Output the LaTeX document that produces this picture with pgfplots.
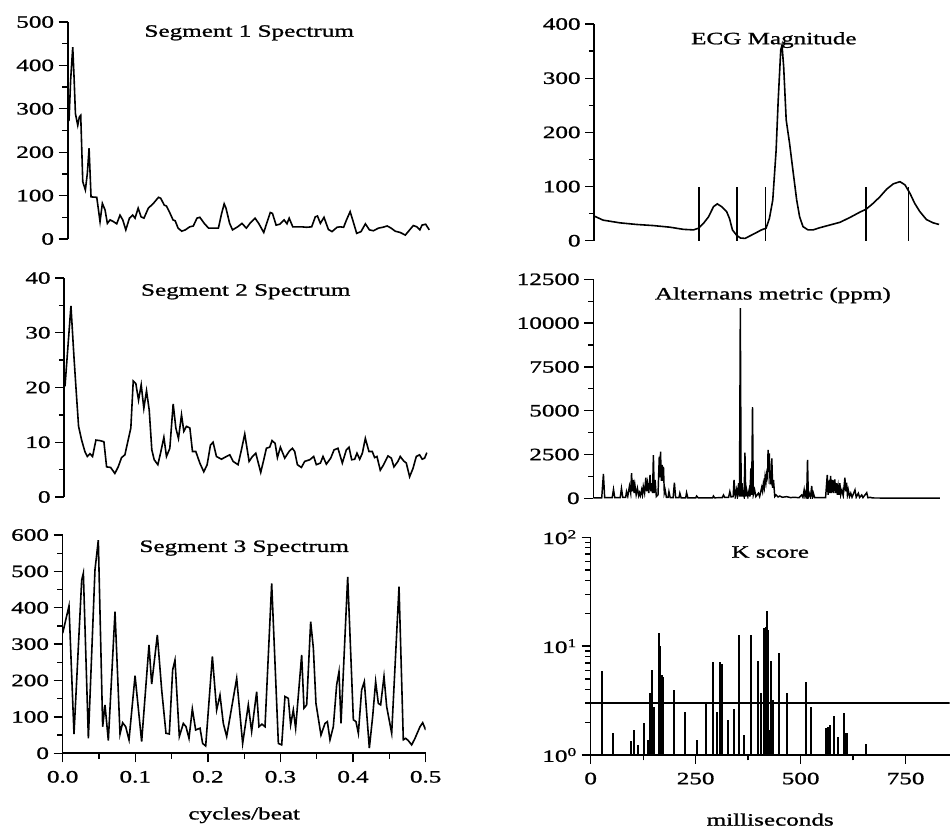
\documentclass[border=0pt]{standalone}
\usepackage{fontspec}
\setmainfont{Liberation Serif}[FakeStretch=1.45, FakeBold=1.2]
\usepackage{pgfplots}
\pgfplotsset{compat=1.18}
\pgfplotsset{
  base/.style={
    scale only axis,
    anchor=south west,
    enlargelimits=false,
    font=\fontsize{13}{15}\selectfont,
    /pgf/number format/assume math mode=true,
    /pgf/number format/1000 sep={},
    scaled y ticks=false,
    axis y line*=left,
    tick align=outside,
    major tick length=6.75pt,
    minor tick length=4pt,
    every tick/.append style={black, line width=1pt},
    every minor tick/.append style={black, line width=1pt},
    axis line style={line width=1.2pt},
    minor y tick num=1,
  },
  top/.style={axis x line=none, xtick=\empty},
  xlab/.style={xlabel style={at={(axis description cs:0.5,0)}, anchor=center, yshift=-#1}},
  curve/.style={black, line width=1.2pt, mark=none},
}
\begin{document}
\begin{tikzpicture}
\useasboundingbox (0pt,0pt) rectangle (712.5pt,623.25pt);

% ---------- Segment 1
\begin{axis}[base, top, at={(50.8pt,444pt)}, width=272.25pt, height=162.75pt,
  xmin=0, xmax=0.5, ymin=0, ymax=500, ytick={0,100,...,500}]
\addplot[curve] coordinates {(0,270) (0.0018,274) (0.004,366) (0.0069,442) (0.0087,373) (0.0106,289) (0.0138,262) (0.016,281) (0.0179,285) (0.0207,132) (0.0243,113) (0.027,151) (0.0294,209) (0.0321,97) (0.040,96) (0.0445,40) (0.0477,82) (0.0514,67) (0.0546,36) (0.0583,44) (0.063,40) (0.0675,35) (0.072,55) (0.0758,44) (0.080,21) (0.085,48) (0.0895,55) (0.0927,48) (0.097,71) (0.101,51) (0.105,48) (0.111,71) (0.118,82) (0.125,96) (0.128,94) (0.133,78) (0.136,76) (0.141,59) (0.145,44) (0.148,42) (0.152,25) (0.157,18) (0.162,21) (0.168,28) (0.173,30) (0.178,48) (0.182,50) (0.188,36) (0.194,25) (0.2006,25) (0.2075,25) (0.212,59) (0.2155,81) (0.218,71) (0.223,36) (0.227,21) (0.234,28) (0.24,36) (0.246,25) (0.251,36) (0.258,48) (0.263,36) (0.27,15) (0.274,36) (0.279,61) (0.282,59) (0.287,32) (0.292,34) (0.298,44) (0.302,35) (0.305,48) (0.31,28) (0.315,28) (0.322,28) (0.329,27) (0.336,28) (0.341,51) (0.344,53) (0.348,36) (0.353,50) (0.359,22) (0.364,17) (0.371,27) (0.375,28) (0.38,27) (0.384,44) (0.389,63) (0.3925,44) (0.398,13) (0.404,17) (0.41,35) (0.4155,21) (0.421,19) (0.428,25) (0.434,27) (0.44,30) (0.4455,25) (0.451,18) (0.458,15) (0.465,9) (0.469,17) (0.476,31) (0.481,28) (0.485,21) (0.488,32) (0.493,34) (0.498,21)};
\node at (rel axis cs:0.5,0.95) {Segment 1 Spectrum};
\end{axis}

% ---------- Segment 2
\begin{axis}[base, top, at={(48.2pt,250.5pt)}, width=272.25pt, height=164.25pt,
  xmin=0, xmax=0.5, ymin=0, ymax=40, ytick={0,10,...,40}]
\addplot[curve] coordinates {(0.001,20.2) (0.0092,34.9) (0.0133,25.7) (0.016,20.2) (0.0197,12.9) (0.0239,10.4) (0.0284,8.3) (0.0317,7.4) (0.0353,7.9) (0.039,7.4) (0.0436,10.4) (0.049,10.3) (0.0546,10.1) (0.0583,5.5) (0.0638,5.4) (0.0697,4.3) (0.0743,5.5) (0.0789,7.2) (0.0835,7.7) (0.088,10.4) (0.0917,12.6) (0.095,21.2) (0.0986,20.7) (0.1023,17.7) (0.106,20.5) (0.1096,16.2) (0.1133,19.4) (0.117,15.9) (0.1206,8.6) (0.1239,6.8) (0.1289,5.9) (0.1326,8.0) (0.1372,10.9) (0.1408,7.4) (0.1454,8.9) (0.15,17.0) (0.1537,12.6) (0.1573,10.7) (0.1615,15.0) (0.1647,12.0) (0.1683,12.9) (0.173,12.6) (0.1766,8.3) (0.1812,8.3) (0.1867,6.2) (0.1922,4.6) (0.1968,5.9) (0.2014,9.5) (0.205,10.0) (0.2096,7.4) (0.2165,6.9) (0.2234,7.4) (0.228,7.7) (0.2326,6.5) (0.2394,5.9) (0.244,8.6) (0.2486,11.5) (0.2546,6.5) (0.2592,7.4) (0.2638,8.0) (0.2706,4.5) (0.2748,6.8) (0.2784,8.9) (0.283,9.1) (0.2862,10.3) (0.2904,9.8) (0.2936,7.2) (0.2977,9.1) (0.3037,7.1) (0.3096,8.3) (0.3142,8.9) (0.3174,8.3) (0.3211,5.9) (0.3266,5.4) (0.3312,6.5) (0.3381,6.8) (0.3436,7.4) (0.3472,5.9) (0.3528,6.2) (0.3564,7.4) (0.361,6.0) (0.367,7.1) (0.3716,8.6) (0.377,8.9) (0.383,6.2) (0.3885,8.6) (0.3922,9.1) (0.3959,6.8) (0.4,6.9) (0.4032,8.0) (0.4069,6.9) (0.4106,8.0) (0.4147,10.7) (0.4197,8.3) (0.4243,8.3) (0.4275,7.2) (0.4307,7.4) (0.4353,4.9) (0.4399,5.9) (0.4459,7.5) (0.4505,7.1) (0.4541,5.5) (0.4596,6.5) (0.4628,7.4) (0.4674,6.6) (0.4711,6.2) (0.4757,3.7) (0.4803,5.2) (0.4849,7.4) (0.4894,7.7) (0.4931,6.9) (0.4963,7.1) (0.4995,8.1)};
\node at (rel axis cs:0.5,0.937) {Segment 2 Spectrum};
\end{axis}

% ---------- Segment 3
\begin{axis}[base, at={(47pt,58.3pt)}, width=272.25pt, height=163.7pt,
  xmin=0, xmax=0.5, ymin=0, ymax=600, ytick={0,100,...,600},
  axis x line*=bottom, xtick={0,0.1,...,0.5}, minor x tick num=1,
  xticklabel style={yshift=-3pt, /pgf/number format/.cd, fixed, fixed zerofill, precision=1},
  xlabel={cycles/beat}, xlab=46.5pt]
\addplot[curve] coordinates {(0,330) (0.0087,405) (0.0156,53) (0.0262,476) (0.0285,495) (0.0354,41) (0.0445,504) (0.0491,586) (0.0551,73) (0.0583,133) (0.0629,35) (0.0721,389) (0.079,53) (0.0826,84) (0.0868,73) (0.0914,37) (0.0997,213) (0.1088,32) (0.1189,298) (0.1226,190) (0.1304,325) (0.1364,174) (0.1423,55) (0.1469,53) (0.1515,229) (0.1547,256) (0.1607,46) (0.1662,82) (0.1699,73) (0.174,41) (0.1786,122) (0.1832,64) (0.1892,69) (0.1928,27) (0.197,20) (0.2062,266) (0.2121,119) (0.2167,160) (0.2213,82) (0.2259,46) (0.2397,206) (0.2479,27) (0.2557,133) (0.2603,60) (0.2672,169) (0.2704,73) (0.2745,80) (0.2787,73) (0.2879,467) (0.2971,27) (0.3017,23) (0.3062,156) (0.3108,151) (0.314,78) (0.3177,119) (0.3209,69) (0.3292,270) (0.3324,124) (0.3361,133) (0.3416,362) (0.3453,289) (0.3489,137) (0.3558,50) (0.3613,82) (0.3646,87) (0.3682,37) (0.3728,73) (0.3774,188) (0.3806,224) (0.3834,82) (0.3926,485) (0.4004,92) (0.404,87) (0.4073,55) (0.4118,174) (0.4155,197) (0.4224,14) (0.427,101) (0.4311,197) (0.4348,137) (0.438,133) (0.4426,211) (0.4463,128) (0.4532,55) (0.4633,458) (0.4692,37) (0.4725,41) (0.476,35) (0.4807,23) (0.4853,41) (0.4922,73) (0.4959,84) (0.5,64)};
\node at (rel axis cs:0.5,0.94) {Segment 3 Spectrum};
\end{axis}

% ---------- ECG Magnitude
\begin{axis}[base, top, at={(445.7pt,442.7pt)}, width=269.3pt, height=162.5pt,
  xmin=0, xmax=855, ymin=0, ymax=400, ytick={0,100,...,400}, clip=false]
\addplot[curve] coordinates {(0,45.5) (21,38) (61,33) (101,30) (140,28) (180,25) (212,21) (236,20) (248,23) (260,32) (272,44) (284,63) (293,68) (303,63) (315,54) (322,41) (329,20) (339,10) (348,5) (359,4.3) (371,9) (386,15) (398,20) (409,23) (417,41) (425,75) (433,167) (438,260) (444,352) (447,361) (451,321) (457,223) (465,180) (474,124) (482,75) (489,44) (497,26) (509,20) (521,20) (537,24) (561,29) (585,34) (609,43) (633,53) (647,58) (664,69) (680,81) (696,95) (712,105) (728,109) (740,103) (752,87) (763,69) (775,54) (791,39) (807,33) (821,30)};
\addplot[ycomb, black, line width=1.2pt] coordinates {(249,100) (340,100) (408,100) (647,100) (748,100)};
\node at (rel axis cs:0.5,0.926) {ECG Magnitude};
\end{axis}

% ---------- Alternans metric
\begin{axis}[base, top, at={(445pt,249.5pt)}, width=269.3pt, height=164.25pt,
  xmin=0, xmax=855, ymin=0, ymax=12500, ytick={0,2500,...,12500}]
\addplot[black, line width=1.1pt] coordinates {(0,30) (20,30) (24,1390) (27,40) (45,40) (48,510) (51,40) (64,40) (67,570) (70,60) (77,60) (79,380) (82,120) (86,700) (89,300) (91,1430) (93,400) (95,1050) (97,300) (99,760) (102,200) (105,570) (108,150) (110,320) (112,150) (115,480) (117,200) (119,670) (122,300) (125,1180) (127,400) (129,860) (132,300) (135,1330) (137,400) (139,860) (141,300) (143,2470) (145,300) (147,1050) (150,100) (154,200) (157,2380) (159,1200) (160,2660) (162,1000) (164,1900) (166,1000) (167,1800) (169,300) (171,480) (174,60) (178,60) (180,380) (183,40) (190,40) (193,890) (196,40) (204,40) (206,290) (209,30) (220,30) (222,320) (225,30) (244,30) (246,130) (250,20) (284,20) (286,130) (289,30) (307,40) (310,190) (313,50) (322,50) (325,380) (328,80) (333,100) (335,1050) (338,100) (341,480) (343,100) (346,860) (348,100) (350,10850) (352,100) (354,860) (356,100) (357,290) (359,100) (361,2610) (363,100) (365,480) (368,100) (371,480) (373,100) (375,1710) (377,200) (379,5200) (381,200) (384,480) (387,100) (393,290) (396,100) (401,630) (403,400) (405,860) (407,600) (409,1240) (411,900) (413,1430) (415,1200) (416,2760) (418,1500) (419,2570) (421,800) (422,1050) (424,900) (425,2280) (427,600) (429,1050) (432,100) (435,190) (440,80) (444,130) (450,60) (460,95) (470,40) (476,57) (490,40) (496,190) (499,60) (502,480) (504,100) (506,340) (508,100) (510,2190) (512,100) (514,290) (517,60) (520,700) (522,60) (524,290) (527,40) (553,40) (557,1330) (559,200) (562,1050) (563,300) (565,1280) (567,300) (570,1050) (572,300) (575,1085) (577,300) (579,860) (581,200) (583,670) (585,200) (587,860) (589,200) (592,480) (595,150) (599,1180) (601,400) (603,890) (605,200) (607,480) (610,100) (613,290) (616,60) (623,480) (626,60) (631,290) (634,50) (639,190) (642,40) (651,320) (654,30) (659,57) (665,20) (700,15) (780,15) (825,10)};
\node at (rel axis cs:0.5,0.927) {Alternans metric (ppm)};
\end{axis}

% ---------- K score
\begin{axis}[base, at={(443pt,57pt)}, width=269.3pt, height=163.3pt,
  xmin=0, xmax=855, ymode=log, ymin=1, ymax=100,
  ytick={1,10,100}, yticklabels={10\textsuperscript{0},10\textsuperscript{1},10\textsuperscript{2}},
  minor ytick={2,3,4,5,6,7,8,9,20,30,40,50,60,70,80,90},
  axis x line*=bottom, xtick={0,250,500,750}, minor xtick={125,375,625},
  xticklabel style={yshift=-3pt},
  xlabel={milliseconds}, xlab=48.5pt]
\addplot[ycomb, black, line width=1.5pt] coordinates {(28,5.96) (52,1.60) (96,1.35) (102,1.70) (113,1.24) (128,1.95) (136,1.37) (141,3.69) (147,6.04) (151,2.78) (162,13.1) (166,10) (169,5.43) (173,5.25) (198,3.96) (225,2.50) (252,1.37) (274,3.09) (291,7.2) (300,2.46) (308,7.1) (313,6.9) (326,2.1) (341,2.63) (352,12.7) (365,1.53) (381,12.7) (399,7.3) (405,3.69) (413,14.6) (417,15.1) (420,21.0) (423,14.1) (425,1.70) (429,7.36) (433,3.2) (448,8.6) (467,3.74) (513,4.72) (524,2.78) (560,1.76) (566,1.82) (570,1.89) (579,2.28) (590,1.45) (603,2.41) (607,1.58) (610,1.58) (656,1.26)};
\addplot[black, line width=1.2pt] coordinates {(0,3) (855,3)};
\node at (rel axis cs:0.5,0.932) {K score};
\end{axis}
\end{tikzpicture}
\end{document}
